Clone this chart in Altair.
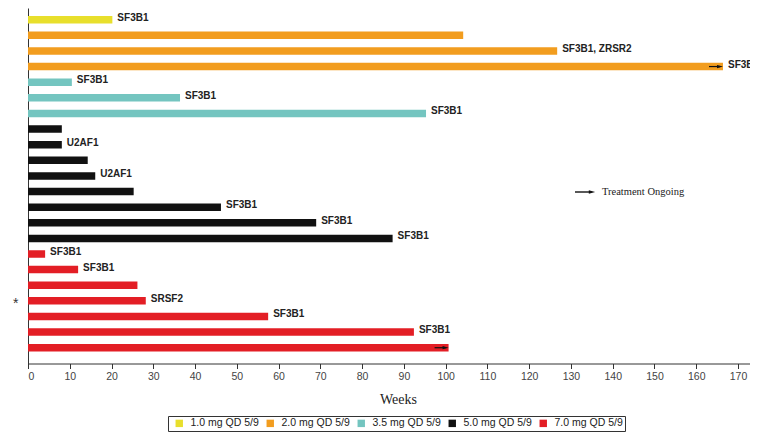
import altair as alt
import pandas as pd

# ---- data ----
patient = [1, 2, 3, 4, 5, 6, 7, 8, 9, 10, 11, 12, 13, 14, 15, 16, 17, 18, 19, 20, 21, 22]
weeks = [20.2, 104.2, 126.7, 166.4, 10.5, 36.4, 95.3, 8.1, 8.1, 14.3, 16.1,
         25.3, 46.2, 69.0, 87.3, 4.1, 12.0, 26.2, 28.2, 57.5, 92.4, 100.7]
dose = ["1.0 mg QD 5/9",
        "2.0 mg QD 5/9", "2.0 mg QD 5/9", "2.0 mg QD 5/9",
        "3.5 mg QD 5/9", "3.5 mg QD 5/9", "3.5 mg QD 5/9",
        "5.0 mg QD 5/9", "5.0 mg QD 5/9", "5.0 mg QD 5/9", "5.0 mg QD 5/9",
        "5.0 mg QD 5/9", "5.0 mg QD 5/9", "5.0 mg QD 5/9", "5.0 mg QD 5/9",
        "7.0 mg QD 5/9", "7.0 mg QD 5/9", "7.0 mg QD 5/9", "7.0 mg QD 5/9",
        "7.0 mg QD 5/9", "7.0 mg QD 5/9", "7.0 mg QD 5/9"]
mutation = ["SF3B1", "", "SF3B1, ZRSR2", "SF3B1", "SF3B1", "SF3B1", "SF3B1",
            "", "U2AF1", "", "U2AF1", "", "SF3B1", "SF3B1", "SF3B1",
            "SF3B1", "SF3B1", "", "SRSF2", "SF3B1", "SF3B1", ""]
ongoing = [False, False, False, True, False, False, False, False, False, False, False,
           False, False, False, False, False, False, False, False, False, False, True]
asterisk_rows = [19]

dose_levels = ["1.0 mg QD 5/9", "2.0 mg QD 5/9", "3.5 mg QD 5/9", "5.0 mg QD 5/9", "7.0 mg QD 5/9"]
dose_colors = ["#E8DF2C", "#F29D1F", "#74C5C0", "#111111", "#E31E25"]
x_ticks = [0, 10, 20, 30, 40, 50, 60, 70, 80, 90, 100, 110, 120, 130, 140, 150, 160, 170]

df = pd.DataFrame({"patient": patient, "weeks": weeks, "dose": dose,
                   "mutation": mutation, "ongoing": ongoing})

xscale = alt.Scale(domain=[0, 172.87], nice=False, zero=True, padding=0)
yscale = alt.Scale(domain=[0.251, 23.01], reverse=True, nice=False, zero=False, padding=0)

base = alt.Chart(df)

bars = base.mark_bar(orient="horizontal", size=7.5).encode(
    x=alt.X("weeks:Q", scale=xscale,
            axis=alt.Axis(values=x_ticks, title="Weeks", grid=False, tickSize=5,
                          tickColor="#333", domainColor="#333",
                          labelFont="Liberation Sans", labelFontSize=10.5,
                          labelColor="#444", labelPadding=3,
                          titleFont="Liberation Serif", titleFontSize=14,
                          titleFontWeight="normal", titleColor="#222",
                          titlePadding=10, titleX=370)),
    y=alt.Y("patient:Q", scale=yscale,
            axis=alt.Axis(values=asterisk_rows, labelExpr="'*'", ticks=False, grid=False,
                          title=None, domainColor="#333", labelFontSize=14,
                          labelFont="Liberation Sans", labelColor="#333",
                          labelPadding=10, labelBaseline="middle", labelOffset=3)),
    color=alt.Color("dose:N", scale=alt.Scale(domain=dose_levels, range=dose_colors),
                    legend=alt.Legend(title=None, orient="none", legendX=140, legendY=408,
                                      direction="horizontal", columns=5,
                                      symbolType="square", symbolSize=55,
                                      symbolStrokeWidth=0, symbolOffset=4,
                                      labelFont="Liberation Sans",
                                      labelFontSize=10.5, labelColor="#222",
                                      labelOffset=6, columnPadding=2, padding=2,
                                      strokeColor="#333")),
)

labels = base.transform_filter("datum.mutation != ''").mark_text(
    align="left", baseline="middle", dx=5, dy=-2,
    font="Liberation Sans", fontWeight="bold", fontSize=10, color="#222"
).encode(
    x=alt.X("weeks:Q", scale=xscale),
    y=alt.Y("patient:Q", scale=yscale),
    text="mutation:N",
)

shafts = base.transform_filter("datum.ongoing").mark_rule(
    color="#111", strokeWidth=1.2, xOffset=-14, x2Offset=-3
).encode(
    x=alt.X("weeks:Q", scale=xscale),
    x2="weeks:Q",
    y=alt.Y("patient:Q", scale=yscale),
)

heads = base.transform_filter("datum.ongoing").mark_point(
    shape="M-1,-0.55L1,0L-1,0.55Z", filled=True, color="#111", size=36,
    opacity=1, xOffset=-3
).encode(
    x=alt.X("weeks:Q", scale=xscale),
    y=alt.Y("patient:Q", scale=yscale),
)

note = alt.Chart(pd.DataFrame({"t": ["Treatment Ongoing"]}))
note_shaft = note.mark_rule(color="#111", strokeWidth=1.4).encode(
    x=alt.value(547), x2=alt.value(562), y=alt.value(184))
note_head = note.mark_point(shape="M-1,-0.55L1,0L-1,0.55Z", filled=True,
                            color="#111", size=40, opacity=1).encode(
    x=alt.value(564), y=alt.value(184))
note_text = note.mark_text(align="left", baseline="middle", font="Liberation Serif",
                           fontSize=10.5, color="#222").encode(
    x=alt.value(574), y=alt.value(184), text="t:N")

chart = alt.layer(bars, labels, shafts, heads, note_shaft, note_head, note_text).properties(
    width=722, height=355.5,
    padding={"left": 20, "top": 0, "right": 0, "bottom": 70},
    autosize=alt.AutoSizeParams(type="none"),
).configure_view(strokeWidth=0).configure_legend(strokeWidth=1)

chart.save("out.html", embed_options={"renderer": "svg", "actions": False})
